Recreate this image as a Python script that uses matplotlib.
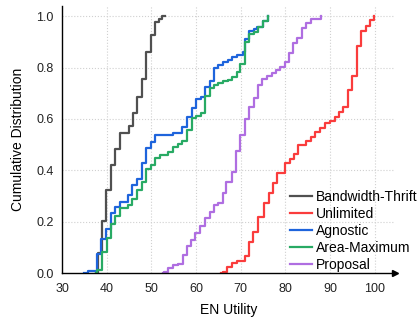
import matplotlib
matplotlib.use('Agg')
import matplotlib.pyplot as plt

plt.rcParams['font.family'] = ['Liberation Sans', 'DejaVu Sans']

### data (step positions, value after each step)
thrift_x = [37.5, 38.0, 38.9, 39.8, 40.9, 41.8, 43.0, 45.0, 45.8, 46.8, 47.8, 48.9, 49.8, 50.9, 51.7, 52.4, 53.0]
thrift_y = [0.0, 0.077, 0.204, 0.325, 0.419, 0.484, 0.545, 0.571, 0.623, 0.684, 0.757, 0.860, 0.926, 0.977, 0.988, 1.0, 1.0]

unlimited_x = [65.5, 66.0, 66.9, 68.0, 69.1, 70.9, 71.9, 72.8, 73.9, 75.2, 76.2, 77.2, 78.2, 79.9, 81.0, 81.9,
               82.9, 84.7, 85.7, 86.7, 87.7, 88.8, 90.0, 91.1, 92.0, 92.9, 93.9, 94.9, 96.0, 97.0, 98.0, 98.9, 99.9]
unlimited_y = [0.0, 0.005, 0.025, 0.038, 0.048, 0.068, 0.120, 0.158, 0.217, 0.274, 0.312, 0.349, 0.388, 0.428, 0.445, 0.463,
               0.498, 0.515, 0.530, 0.548, 0.563, 0.585, 0.593, 0.608, 0.628, 0.645, 0.712, 0.769, 0.885, 0.943, 0.961, 0.984, 1.0]

agnostic_x = [35.0, 35.9, 37.8, 38.8, 39.8, 40.9, 41.9, 43.0, 44.8, 45.7, 46.8, 47.8, 48.9, 49.9, 50.8, 54.9, 56.8,
              57.9, 59.0, 59.9, 61.2, 62.0, 63.1, 64.0, 65.0, 66.1, 67.1, 68.0, 69.1, 70.4, 71.0, 71.9, 72.9, 73.6, 74.9, 76.0]
agnostic_y = [0.0, 0.006, 0.074, 0.131, 0.170, 0.232, 0.256, 0.277, 0.303, 0.342, 0.368, 0.427, 0.485, 0.511, 0.537, 0.546, 0.569,
              0.606, 0.643, 0.678, 0.684, 0.725, 0.748, 0.797, 0.810, 0.820, 0.830, 0.840, 0.850, 0.861, 0.913, 0.943, 0.952, 0.960, 0.982, 1.0]

areamax_x = [37.5, 37.9, 38.9, 40.0, 41.0, 41.9, 43.0, 44.8, 45.7, 46.8, 47.8, 48.9, 49.9, 50.8, 51.9, 53.8, 54.9, 56.0,
             56.9, 57.9, 59.0, 60.0, 61.0, 62.0, 63.1, 63.9, 65.0, 66.0, 67.1, 68.1, 69.1, 69.8, 71.0, 71.9, 72.9, 73.9, 74.9, 76.0]
areamax_y = [0.0, 0.012, 0.083, 0.135, 0.190, 0.223, 0.252, 0.265, 0.290, 0.323, 0.355, 0.407, 0.420, 0.446, 0.459, 0.472, 0.489, 0.502,
             0.515, 0.556, 0.602, 0.612, 0.624, 0.690, 0.719, 0.732, 0.740, 0.748, 0.753, 0.764, 0.783, 0.816, 0.900, 0.930, 0.940, 0.958, 0.982, 1.0]

proposal_x = [52.5, 52.9, 53.8, 54.9, 56.0, 57.0, 57.9, 58.8, 59.8, 60.9, 62.0, 63.0, 63.9, 65.0, 66.0, 66.8, 68.0, 68.9,
              69.9, 70.9, 71.9, 72.9, 73.9, 74.8, 75.8, 76.9, 77.8, 78.8, 79.9, 80.8, 81.7, 82.6, 83.6, 84.7, 85.8, 88.0]
proposal_y = [0.0, 0.005, 0.018, 0.031, 0.035, 0.070, 0.104, 0.128, 0.154, 0.183, 0.213, 0.239, 0.265, 0.274, 0.310, 0.355, 0.394, 0.475,
              0.537, 0.600, 0.648, 0.680, 0.732, 0.756, 0.768, 0.779, 0.789, 0.804, 0.820, 0.855, 0.894, 0.917, 0.955, 0.972, 0.988, 1.0]

series = [
    ('Bandwidth-Thrift', thrift_x, thrift_y, '#505050'),
    ('Unlimited', unlimited_x, unlimited_y, '#fa3c3c'),
    ('Agnostic', agnostic_x, agnostic_y, '#1e64dc'),
    ('Area-Maximum', areamax_x, areamax_y, '#28aa64'),
    ('Proposal', proposal_x, proposal_y, '#af6ee1'),
]

xticks = [30, 40, 50, 60, 70, 80, 90, 100]
yticks = [0.0, 0.2, 0.4, 0.6, 0.8, 1.0]

fig = plt.figure(figsize=(4.17, 3.2), dpi=100)
ax = fig.add_axes([62 / 417, 47 / 320, 333 / 417, 267 / 320])

for name, xs, ys, c in series:
    ax.step(xs, ys, where='post', color=c, lw=1.6, label=name)

ax.set_xlim(30, 104.5)
ax.set_ylim(0, 1.04)
ax.set_xticks(xticks)
ax.set_yticks(yticks)
ax.set_yticklabels([f'{v:.1f}' for v in yticks])
ax.tick_params(axis='both', length=0, labelsize=9, labelcolor='#222222')
ax.tick_params(axis='x', pad=7)
ax.tick_params(axis='y', pad=6)

# dotted grid, skipping the lines on the axes themselves
for v in xticks[1:]:
    ax.axvline(v, color='#d0d0d0', ls=':', lw=0.8, zorder=0)
for v in yticks[1:]:
    ax.axhline(v, color='#d0d0d0', ls=':', lw=0.8, zorder=0)

for s in ['top', 'right']:
    ax.spines[s].set_visible(False)
for s in ['left', 'bottom']:
    ax.spines[s].set_linewidth(1.0)

# arrow heads on the axes
ax.plot(1, 0, '>k', ms=5, transform=ax.get_yaxis_transform(), clip_on=False)
ax.plot(0, 1, '^k', ms=5, transform=ax.get_xaxis_transform(), clip_on=False)

ax.set_xlabel('EN Utility', fontsize=10, labelpad=6)
ax.set_ylabel('Cumulative Distribution', fontsize=10, labelpad=8)

ax.legend(loc='lower left', bbox_to_anchor=(290 / 417, 48 / 320), bbox_transform=fig.transFigure,
          frameon=False, fontsize=10, handlelength=1.6, handletextpad=0.25, labelspacing=0.21,
          borderpad=0, borderaxespad=0)

fig.savefig('out.png', dpi=100)
